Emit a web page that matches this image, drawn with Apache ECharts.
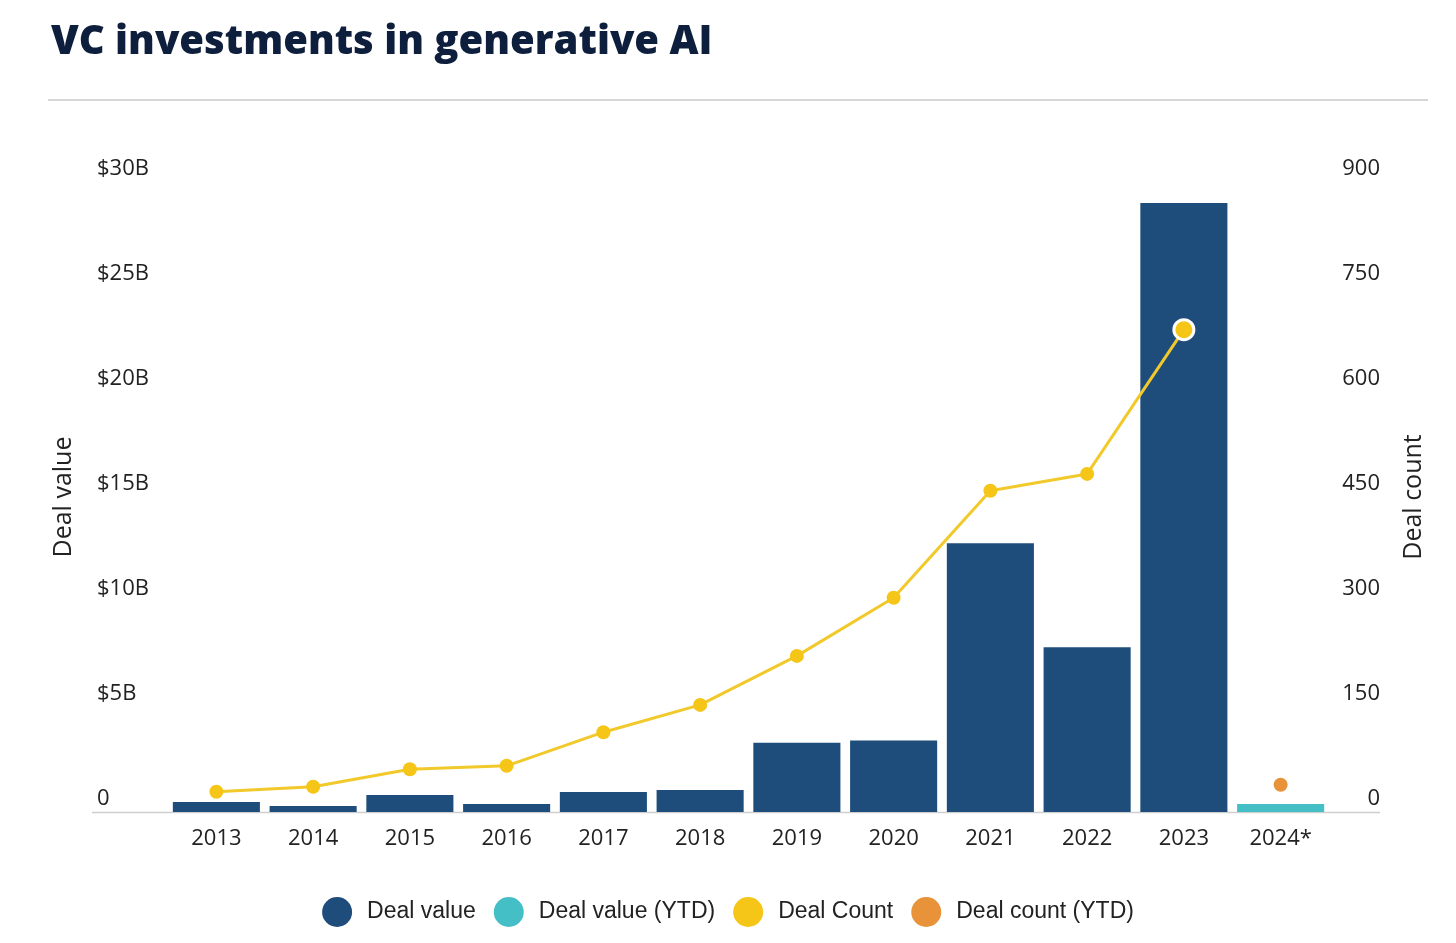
<!DOCTYPE html>
<html><head><meta charset="utf-8">
<script src="https://cdn.jsdelivr.net/npm/echarts@6/dist/echarts.min.js"></script>
<style>html,body{margin:0;padding:0;background:#fff}#c{width:1456px;height:943px}</style>
</head><body><div id="c"></div>
<script>
const years = ['2013','2014','2015','2016','2017','2018','2019','2020','2021','2022','2023','2024*'];
const dealValue = [0.48,0.29,0.81,0.38,0.95,1.05,3.3,3.4,12.8,7.85,29.0,null];
const dealValueYTD = [null,null,null,null,null,null,null,null,null,null,null,0.38];
const dealCount = [29,36,61,66,114,153,223,306,459,483,689,null];
const dealCountYTD = [null,null,null,null,null,null,null,null,null,null,null,39];
const leftTicks = ['0','$5B','$10B','$15B','$20B','$25B','$30B'];

const chart = echarts.init(document.getElementById('c'));
const labelFont = '"Open Sans", sans-serif';
const countData = dealCount.map((v,i)=> i===10 ? {value:v, symbolSize:20, itemStyle:{color:'#f5c518', borderColor:'#fff', borderWidth:3}} : v);
chart.setOption({
  animation:false,
  title:{text:'VC investments in generative AI', left:46, top:18,
    textStyle:{fontFamily:labelFont, fontWeight:800, fontSize:40, color:'#0e1f3d'}},
  legend:{bottom:11, left:'center', itemWidth:30, itemHeight:30, itemGap:18, icon:'circle',
    textStyle:{fontFamily:'"Liberation Sans", Arial, sans-serif', fontSize:23, color:'#222', padding:[0,0,0,10]},
    data:['Deal value','Deal value (YTD)','Deal Count','Deal count (YTD)']},
  grid:{left:168, right:127, top:182, bottom:131},
  xAxis:{type:'category', data:years, axisLine:{show:false}, axisTick:{show:false},
    axisLabel:{fontFamily:labelFont, fontSize:22, color:'#222', margin:16}},
  yAxis:[
    {type:'value', min:0, max:30, interval:5, name:'Deal value', nameLocation:'middle', nameRotate:90, nameGap:92,
     nameTextStyle:{fontFamily:labelFont, fontSize:25, color:'#222'},
     splitLine:{show:false}, axisLine:{show:false}, axisTick:{show:false},
     axisLabel:{fontFamily:labelFont, fontSize:22, color:'#222', margin:71, align:'left', verticalAlign:'bottom', padding:[0,0,2,0],
       formatter:(v)=>leftTicks[Math.round(v/5)]}},
    {type:'value', min:0, max:900, interval:150, name:'Deal count', nameLocation:'middle', nameRotate:90, nameGap:72,
     nameTextStyle:{fontFamily:labelFont, fontSize:25, color:'#222'},
     splitLine:{show:false}, axisLine:{show:false}, axisTick:{show:false},
     axisLabel:{fontFamily:labelFont, fontSize:22, color:'#222', margin:51, align:'right', verticalAlign:'bottom', padding:[0,0,2,0]}}
  ],
  series:[
    {name:'Deal value', type:'bar', data:dealValue, stack:'v', barWidth:'90%', itemStyle:{color:'#1e4d7b'}, z:2},
    {name:'Deal value (YTD)', type:'bar', data:dealValueYTD, stack:'v', barWidth:'90%', itemStyle:{color:'#45bfc6'}, z:2},
    {name:'Deal Count', type:'line', yAxisIndex:1, data:countData, symbol:'circle', symbolSize:14,
     lineStyle:{color:'#f2c92a', width:3}, itemStyle:{color:'#f5c518'}, z:5},
    {name:'Deal count (YTD)', type:'scatter', yAxisIndex:1, data:dealCountYTD, symbolSize:14, itemStyle:{color:'#e8923a', opacity:1}, z:5}
  ]
});
const y0 = chart.convertToPixel({yAxisIndex:0}, 0);
chart.setOption({graphic:[
  {type:'line', shape:{x1:48, y1:100, x2:1428, y2:100}, style:{stroke:'#c8c8c8', lineWidth:1.5}, silent:true},
  {type:'line', shape:{x1:92, y1:y0+0.5, x2:1380, y2:y0+0.5}, style:{stroke:'#cfcfcf', lineWidth:1.5}, silent:true, z:1}
]});
</script></body></html>
